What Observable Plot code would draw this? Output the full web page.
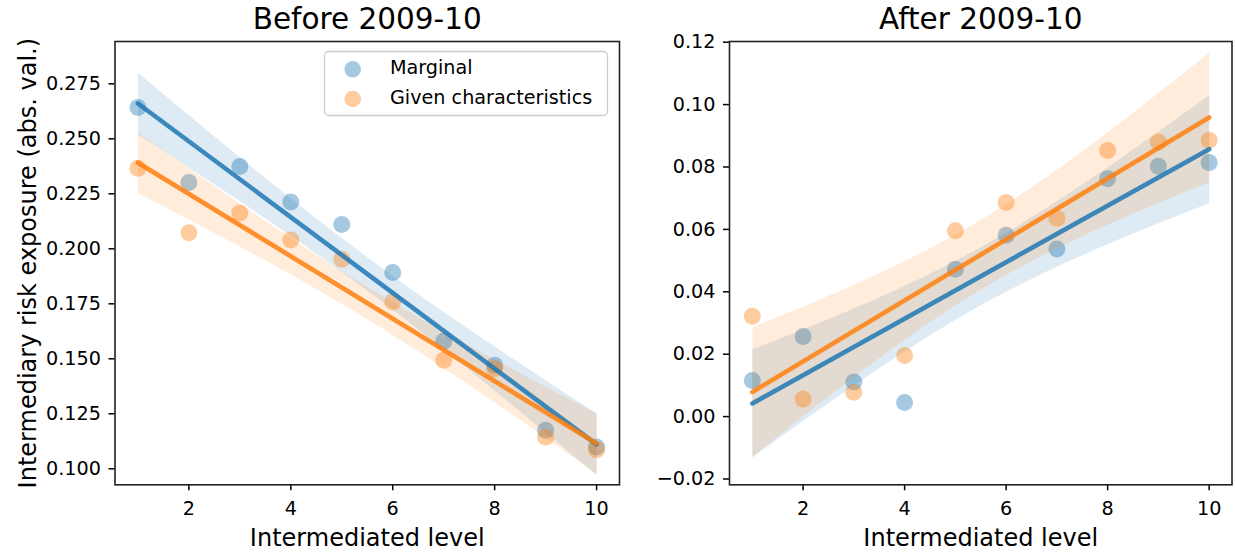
<!DOCTYPE html>
<html>
<head>
<meta charset="utf-8">
<script src="https://cdn.jsdelivr.net/npm/d3@7"></script>
<script src="https://cdn.jsdelivr.net/npm/@observablehq/plot@0.6"></script>
<style>
  body { margin: 0; background: #ffffff; }
  #chart { position: relative; width: 1235px; height: 552px; font-family: "DejaVu Sans", sans-serif; }
  #chart svg { position: absolute; top: 0; overflow: visible; }
</style>
</head>
<body>
<div id="chart"></div>
<script>
// Intermediated level (1 = least, 10 = most intermediated)
const levels = [1, 2, 3, 4, 5, 6, 7, 8, 9, 10];

// Intermediary risk exposure (absolute value), before 2009-10
const beforeMarginal = [0.2642, 0.2301, 0.2374, 0.2213, 0.2111, 0.1892, 0.1580, 0.1471, 0.1175, 0.1099];
const beforeGiven    = [0.2366, 0.2073, 0.2163, 0.2040, 0.1953, 0.1759, 0.1493, 0.1455, 0.1144, 0.1087];

// Intermediary risk exposure (absolute value), after 2009-10
const afterMarginal = [0.0116, 0.0257, 0.0111, 0.0045, 0.0472, 0.0581, 0.0537, 0.0762, 0.0802, 0.0814];
const afterGiven    = [0.0322, 0.0056, 0.0078, 0.0196, 0.0596, 0.0686, 0.0636, 0.0853, 0.0880, 0.0886];

const seriesNames  = ["Marginal", "Given characteristics"];
const seriesColors = ["#1f77b4", "#ff7f0e"];

const xTicks       = [2, 4, 6, 8, 10];
const beforeYTicks = [0.100, 0.125, 0.150, 0.175, 0.200, 0.225, 0.250, 0.275];
const afterYTicks  = [-0.02, 0.00, 0.02, 0.04, 0.06, 0.08, 0.10, 0.12];

const panelTitles = ["Before 2009-10", "After 2009-10"];
const xLabel = "Intermediated level";
const yLabel = "Intermediary risk exposure (abs. val.)";

const FONT = "DejaVu Sans, sans-serif";
const TICK_FS = 19.2;

function rows(values, series) {
  return levels.map((level, i) => ({level, value: values[i], series}));
}

function panel({title, seriesValues, yDomain, yTicks, yFormat, width, marginLeft, marginRight, withYLabel}) {
  const marks = [
    Plot.axisX({ticks: xTicks, tickSize: 6, tickPadding: 10.4, strokeWidth: 1.5,
                fontSize: TICK_FS, label: null, tickFormat: d => String(d)}),
    Plot.axisY({ticks: yTicks, tickSize: 6, tickPadding: 8, strokeWidth: 1.5,
                fontSize: TICK_FS, label: null, tickFormat: yFormat})
  ];
  const datasets = seriesValues.map((vals, k) => rows(vals, seriesNames[k]));
  // points and 95% confidence bands first, per series
  datasets.forEach((data, k) => {
    marks.push(
      Plot.dot(data, {x: "level", y: "value", r: 8.5, fill: seriesColors[k], fillOpacity: 0.4}),
      Plot.linearRegressionY(data, {x: "level", y: "value", fill: seriesColors[k], fillOpacity: 0.15,
                                    stroke: seriesColors[k], strokeOpacity: 0, ci: 0.95})
    );
  });
  // fitted lines on top
  datasets.forEach((data, k) => {
    marks.push(
      Plot.linearRegressionY(data, {x: "level", y: "value", stroke: seriesColors[k], strokeOpacity: 0.85,
                                    strokeWidth: 4.6, ci: 0})
    );
  });
  marks.push(
    Plot.frame({stroke: "#222222", strokeWidth: 1.6}),
    Plot.text([title], {frameAnchor: "top", lineAnchor: "bottom", dy: -12.3, fontSize: 29.5, fill: "black"}),
    Plot.text([xLabel], {frameAnchor: "bottom", lineAnchor: "bottom", dy: 61.5, fontSize: 24, fill: "black"})
  );
  if (withYLabel) {
    marks.push(Plot.text([yLabel], {frameAnchor: "left", textAnchor: "middle", lineAnchor: "bottom", rotate: -90,
                                    dx: -(marginLeft - 35), fontSize: 24, fill: "black"}));
  }
  return Plot.plot({
    width, height: 552,
    marginLeft, marginRight, marginTop: 41, marginBottom: 67.7,
    style: {fontFamily: FONT, fontSize: TICK_FS + "px", color: "black", background: "transparent", overflow: "visible"},
    x: {domain: [0.55, 10.45]},
    y: {domain: yDomain},
    marks
  });
}

const chart = document.getElementById("chart");

const left = panel({
  title: panelTitles[0],
  seriesValues: [beforeMarginal, beforeGiven],
  yDomain: [0.09273, 0.29423],
  yTicks: beforeYTicks,
  yFormat: d3.format(".3f"),
  width: 620, marginLeft: 114.5, marginRight: 1, withYLabel: true
});
left.style.left = "0px";
chart.appendChild(left);

const right = panel({
  title: panelTitles[1],
  seriesValues: [afterMarginal, afterGiven],
  yDomain: [-0.02186, 0.12022],
  yTicks: afterYTicks,
  yFormat: d3.format(".2f"),
  width: 615, marginLeft: 109, marginRight: 3.5, withYLabel: false
});
right.style.left = "620px";
chart.appendChild(right);

// Legend box in the upper right of the first panel
const legend = d3.select(chart).append("svg")
  .attr("width", 1235).attr("height", 552)
  .style("left", "0px").style("pointer-events", "none")
  .attr("font-family", FONT).attr("font-size", TICK_FS);
legend.append("rect")
  .attr("x", 324.5).attr("y", 51.5).attr("width", 283).attr("height", 64).attr("rx", 4)
  .attr("fill", "white").attr("fill-opacity", 0.8).attr("stroke", "#cccccc").attr("stroke-width", 1.3);
seriesNames.forEach((name, k) => {
  const cy = 69.3 + k * 29.7;
  legend.append("circle").attr("cx", 352.7).attr("cy", cy).attr("r", 8.3)
    .attr("fill", seriesColors[k]).attr("fill-opacity", 0.4);
  legend.append("text").attr("x", 390).attr("y", cy + 5).attr("fill", "black").text(name);
});
</script>
</body>
</html>
